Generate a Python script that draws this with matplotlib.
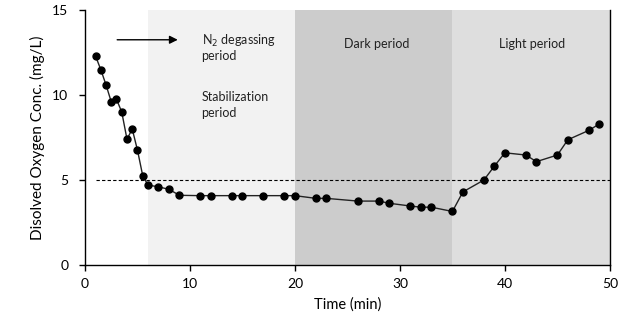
import matplotlib
matplotlib.use("Agg")
import matplotlib.pyplot as plt

# --- datos ---
tiempo = [1, 1.5, 2, 2.5, 3, 3.5, 4, 4.5, 5, 5.5, 6, 7, 8, 9, 11, 12, 14, 15, 17,
          19, 20, 22, 23, 26, 28, 29, 31, 32, 33, 35, 36, 38, 39, 40, 42, 43, 45,
          46, 48, 49]
oxigeno = [12.3, 11.5, 10.6, 9.6, 9.75, 9.0, 7.4, 8.0, 6.75, 5.25, 4.7, 4.6, 4.45,
           4.1, 4.08, 4.08, 4.08, 4.08, 4.08, 4.08, 4.08, 3.92, 3.92, 3.76, 3.76,
           3.63, 3.47, 3.4, 3.4, 3.15, 4.3, 5.0, 5.82, 6.6, 6.47, 6.08, 6.47, 7.37,
           7.92, 8.3]
periodos = [(6, 20, "#f2f2f2"), (20, 35, "#cccccc"), (35, 50, "#dedede")]
umbral = 5

plt.rcParams['font.family'] = ['Lato', 'DejaVu Sans']

fig = plt.figure(figsize=(6.32, 3.32), dpi=100)
ax = fig.add_axes([0.1345, 0.2018, 0.8305, 0.768])

for x0, x1, c in periodos:
    ax.axvspan(x0, x1, color=c, lw=0, zorder=0)

ax.plot([1, 50], [umbral, umbral], ls=(0, (3, 2)), color="black", lw=0.8, zorder=1)
ax.plot(tiempo, oxigeno, color="#222222", lw=1, marker="o", ms=5,
        mfc="black", mec="black", zorder=3)

ax.annotate("", xy=(9.1, 13.25), xytext=(2.8, 13.25),
            arrowprops=dict(arrowstyle="-|>", color="black", lw=1, mutation_scale=12))
color_txt = "#222222"
ax.text(11.1, 13.2, "N$_2$ degassing", fontsize=9, va="center", color=color_txt)
ax.text(11.1, 12.3, "period", fontsize=9, va="center", color=color_txt)
ax.text(11.1, 9.86, "Stabilization", fontsize=9, va="center", color=color_txt)
ax.text(11.1, 8.92, "period", fontsize=9, va="center", color=color_txt)
ax.text(27.75, 12.98, "Dark period", fontsize=9, va="center", ha="center", color=color_txt)
ax.text(42.6, 12.98, "Light period", fontsize=9, va="center", ha="center", color=color_txt)

ax.set_xlim(0, 50)
ax.set_ylim(0, 15)
ax.set_xticks([0, 10, 20, 30, 40, 50])
ax.set_yticks([0, 5, 10, 15])
ax.tick_params(labelsize=10, direction="out", length=4, width=1, pad=5)
ax.tick_params(axis="y", pad=8)
ax.spines["top"].set_visible(False)
for s in ["left", "bottom", "right"]:
    ax.spines[s].set_linewidth(1)
ax.set_xlabel("Time (min)", fontsize=10.5, labelpad=6)
ax.set_ylabel("Disolved Oxygen Conc. (mg/L)", fontsize=11, labelpad=5)

fig.savefig("out.png", dpi=100)
